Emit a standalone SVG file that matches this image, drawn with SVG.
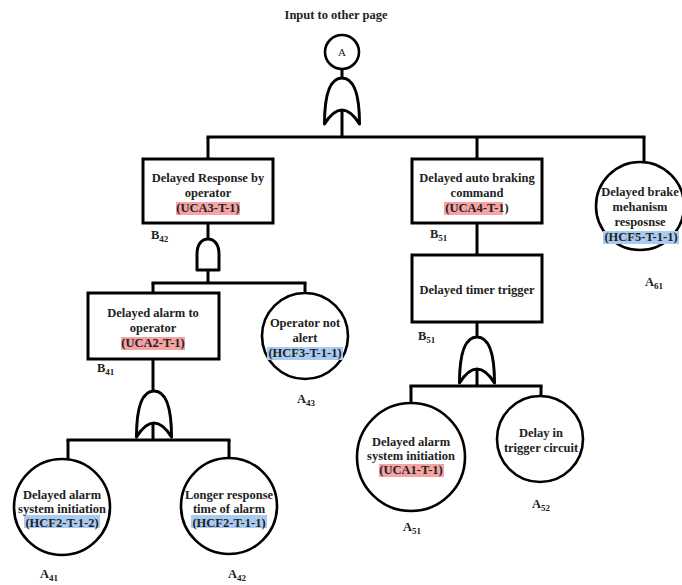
<svg xmlns="http://www.w3.org/2000/svg" width="682" height="585" viewBox="0 0 682 585" font-family="'Liberation Serif', 'DejaVu Serif', serif">
  <style>
    .ln { stroke: #000; stroke-width: 3; fill: none; }
    .box { fill: #fff; stroke: #000; stroke-width: 3; }
    .ev { fill: #fff; stroke: #000; stroke-width: 2.6; }
    .gate { fill: #fff; stroke: #000; stroke-width: 3; stroke-linejoin: round; }
    text { font-family: 'Liberation Serif', 'DejaVu Serif', serif; font-weight: bold; font-size: 12.5px; fill: #222; }
    .c { text-anchor: middle; }
    .sub { font-size: 9px; }
    .hl-r { fill: #f5a3a3; }
    .hl-b { fill: #a9cbf2; }
  </style>
  <defs>
    <!-- OR gate, local origin at top centre, 35 wide, 46 tall -->
    <path id="orGate" class="gate" d="M-17.5,46 C-17.5,20 -13,0 0,0 C13,0 17.5,20 17.5,46 Q0,18 -17.5,46 Z"/>
    <!-- AND gate, local origin at top centre -->
    <path id="andGate" class="gate" d="M-11,31 L-11,15 C-11,5 -6,0 0,0 C6,0 11,5 11,15 L11,31 Z"/>
  </defs>

  <!-- connectors -->
  <g id="connectors" class="ln">
    <line x1="342" y1="69" x2="342" y2="137"/>
    <line x1="206.5" y1="137" x2="645.5" y2="137"/>
    <line x1="208" y1="137" x2="208" y2="159"/>
    <line x1="477" y1="137" x2="477" y2="159"/>
    <line x1="644" y1="137" x2="644" y2="162"/>

    <line x1="208" y1="223" x2="208" y2="283"/>
    <line x1="151.5" y1="283" x2="306.5" y2="283"/>
    <line x1="153" y1="283" x2="153" y2="293"/>
    <line x1="305" y1="283" x2="305" y2="293"/>

    <line x1="153" y1="359" x2="153" y2="440"/>
    <line x1="66.5" y1="440" x2="230.5" y2="440"/>
    <line x1="68" y1="440" x2="68" y2="459"/>
    <line x1="229" y1="440" x2="229" y2="458"/>

    <line x1="477" y1="223" x2="477" y2="255"/>
    <line x1="477" y1="322" x2="477" y2="386"/>
    <line x1="409.5" y1="386" x2="542.5" y2="386"/>
    <line x1="411" y1="386" x2="411" y2="403"/>
    <line x1="541" y1="386" x2="541" y2="397"/>
  </g>

  <!-- gates -->
  <g id="gate-top"><use href="#orGate" x="342" y="78"/></g>
  <g id="gate-b42"><use href="#andGate" x="208" y="239"/></g>
  <g id="gate-b41"><use href="#orGate" x="154" y="391"/></g>
  <g id="gate-b51"><use href="#orGate" x="477" y="337"/></g>

  <!-- title and transfer symbol -->
  <g id="transfer-A">
    <text class="c" x="336" y="19">Input to other page</text>
    <circle class="ev" cx="342" cy="52" r="17"/>
    <text class="c" x="342" y="56" style="font-weight:normal;font-size:11px">A</text>
  </g>

  <!-- B42 -->
  <g id="node-b42">
    <rect class="box" x="143" y="159" width="130" height="64"/>
    <rect class="hl-r" x="176" y="202" width="64" height="13"/>
    <text class="c" x="208" y="182">Delayed Response by</text>
    <text class="c" x="208" y="197">operator</text>
    <text class="c" x="208" y="212">(UCA3-T-1)</text>
    <text x="151" y="239">B<tspan class="sub" dy="3">42</tspan></text>
  </g>

  <!-- B51 upper -->
  <g id="node-b51-cmd">
    <rect class="box" x="412" y="159" width="130" height="64"/>
    <rect class="hl-r" x="444" y="202" width="59" height="13"/>
    <text class="c" x="477" y="182">Delayed auto braking</text>
    <text class="c" x="477" y="197">command</text>
    <text class="c" x="477" y="212">(UCA4-T-1)</text>
    <text x="430" y="238">B<tspan class="sub" dy="3">51</tspan></text>
  </g>

  <!-- B51 lower -->
  <g id="node-b51-timer">
    <rect class="box" x="412" y="255" width="130" height="67"/>
    <text class="c" x="477" y="294">Delayed timer trigger</text>
    <text x="418" y="340">B<tspan class="sub" dy="3">51</tspan></text>
  </g>

  <!-- A61 -->
  <g id="node-a61">
    <circle class="ev" cx="640" cy="206" r="44"/>
    <rect class="hl-b" x="603" y="231" width="76" height="13"/>
    <text class="c" x="640" y="196">Delayed brake</text>
    <text class="c" x="640" y="211">mehanism</text>
    <text class="c" x="640" y="226">resposnse</text>
    <text class="c" x="641" y="241">(HCF5-T-1-1)</text>
    <text x="645" y="286">A<tspan class="sub" dy="3">61</tspan></text>
  </g>

  <!-- B41 -->
  <g id="node-b41">
    <rect class="box" x="88" y="293" width="131" height="66"/>
    <rect class="hl-r" x="121" y="337" width="64" height="13"/>
    <text class="c" x="153" y="317">Delayed alarm to</text>
    <text class="c" x="153" y="332">operator</text>
    <text class="c" x="153" y="347">(UCA2-T-1)</text>
    <text x="97" y="372">B<tspan class="sub" dy="3">41</tspan></text>
  </g>

  <!-- A43 -->
  <g id="node-a43">
    <circle class="ev" cx="305" cy="336" r="43"/>
    <rect class="hl-b" x="267" y="347" width="76" height="13"/>
    <text class="c" x="305" y="327">Operator not</text>
    <text class="c" x="305" y="342">alert</text>
    <text class="c" x="305" y="357">(HCF3-T-1-1)</text>
    <text x="297" y="403">A<tspan class="sub" dy="3">43</tspan></text>
  </g>

  <!-- A41 -->
  <g id="node-a41">
    <circle class="ev" cx="62" cy="507" r="48"/>
    <rect class="hl-b" x="24" y="515" width="76" height="13"/>
    <text class="c" x="62" y="499">Delayed alarm</text>
    <text class="c" x="62" y="513">system initiation</text>
    <text class="c" x="62" y="527">(HCF2-T-1-2)</text>
    <text x="40" y="578">A<tspan class="sub" dy="3">41</tspan></text>
  </g>

  <!-- A42 -->
  <g id="node-a42">
    <circle class="ev" cx="229" cy="506" r="48"/>
    <rect class="hl-b" x="191" y="515" width="76" height="13"/>
    <text class="c" x="229" y="499">Longer response</text>
    <text class="c" x="229" y="513">time of alarm</text>
    <text class="c" x="229" y="527">(HCF2-T-1-1)</text>
    <text x="228" y="578">A<tspan class="sub" dy="3">42</tspan></text>
  </g>

  <!-- A51 -->
  <g id="node-a51">
    <circle class="ev" cx="411" cy="457" r="54"/>
    <rect class="hl-r" x="379" y="464" width="65" height="13"/>
    <text class="c" x="411" y="446">Delayed alarm</text>
    <text class="c" x="411" y="460">system initiation</text>
    <text class="c" x="411" y="474">(UCA1-T-1)</text>
    <text x="403" y="531">A<tspan class="sub" dy="3">51</tspan></text>
  </g>

  <!-- A52 -->
  <g id="node-a52">
    <circle class="ev" cx="540" cy="439" r="43"/>
    <text class="c" x="541" y="437">Delay in</text>
    <text class="c" x="541" y="452">trigger circuit</text>
    <text x="532" y="508">A<tspan class="sub" dy="3">52</tspan></text>
  </g>
</svg>
